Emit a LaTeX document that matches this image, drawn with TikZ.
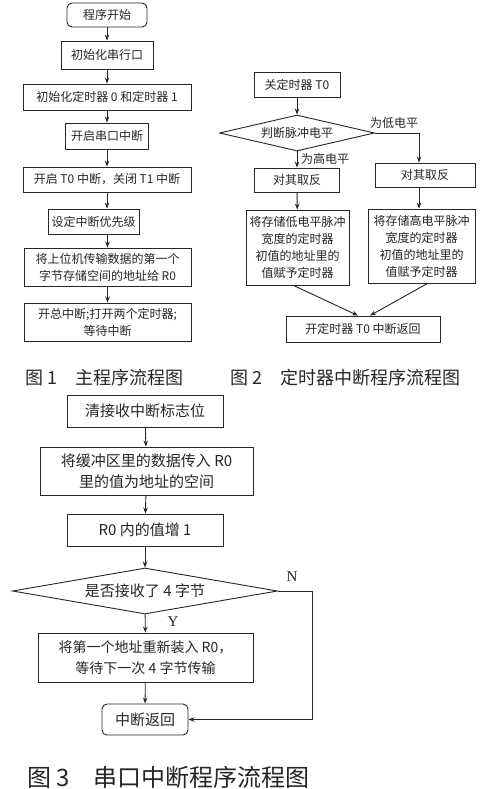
\documentclass[tikz,border=0pt]{standalone}
\usepackage{fontspec}
\setmainfont{Liberation Serif}
\newfontfamily\cjk{Noto Sans CJK SC}
\usetikzlibrary{arrows.meta,shapes.geometric}
\begin{document}
\begin{tikzpicture}[x=1pt,y=-1pt,
  box/.style={draw=black!85,line width=0.9pt,inner sep=1pt,align=center,text=black!85,
    font=\cjk\fontsize{12}{17}\selectfont},
  bigbox/.style={box,font=\cjk\fontsize{15}{21}\selectfont},
  rbox/.style={rounded corners=5pt},
  dia/.style={diamond,draw=black!85,line width=0.9pt,inner sep=0pt,text=black!85},
  arr/.style={-{Stealth[length=6pt,width=4.5pt]},draw=black!85,line width=0.9pt},
  lbl/.style={text=black!85,font=\cjk\fontsize{12}{14}\selectfont,inner sep=0pt},
  yn/.style={text=black!85,font=\fontsize{15}{17}\selectfont,inner sep=0pt},
  captext/.style={text=black!85,font=\cjk\fontsize{18}{20}\selectfont,inner sep=0pt,anchor=west},
  bigcaptext/.style={captext,font=\cjk\fontsize{24}{26}\selectfont}]
\useasboundingbox (0,0) rectangle (482,789);
\fill[white] (0,0) rectangle (482,789);

% ---------------- Figure 1 ----------------
\node[box,rbox,minimum width=80pt,minimum height=24pt] (s1) at (107,15) {程序开始};
\node[box,minimum width=92pt,minimum height=28pt] (a1) at (107,55) {初始化串行口};
\node[box,minimum width=168pt,minimum height=26pt] (a2) at (107,97) {初始化定时器 0 和定时器 1};
\node[box,minimum width=83pt,minimum height=26pt] (a3) at (107,136) {开启串口中断};
\node[box,minimum width=168pt,minimum height=25pt] (a4) at (107,179.5) {开启 T0 中断，关闭 T1 中断};
\node[box,minimum width=91pt,minimum height=25pt] (a5) at (93.5,221.5) {设定中断优先级};
\node[box,minimum width=167pt,minimum height=38pt] (a6) at (107.5,267) {将上位机传输数据的第一个\\字节存储空间的地址给 R0};
\node[box,minimum width=167pt,minimum height=38pt] (a7) at (107.5,322) {开总中断;打开两个定时器;\\等待中断};

\draw[arr] (s1) -- (a1);
\draw[arr] (a1) -- (a2);
\draw[arr] (a2) -- (a3);
\draw[arr] (a3) -- (a4);
\draw[arr] (a4.south) -- (a4.south |- a5.north);
\draw[arr] (a6.north |- a5.south) -- (a6.north);
\draw[arr] (a6) -- (a7);

% ---------------- Figure 2 ----------------
\node[box,minimum width=86pt,minimum height=25pt] (b1) at (297,84.5) {关定时器 T0};
\node[dia,aspect=4.3,minimum width=155pt,minimum height=36pt,font=\cjk\fontsize{12}{14}\selectfont] (d1) at (297,133) {判断脉冲电平};
\node[box,minimum width=85pt,minimum height=24pt] (b2) at (297,180) {对其取反};
\node[box,minimum width=100pt,minimum height=24pt] (b3) at (425,175) {对其取反};
\node[box,minimum width=103pt,minimum height=75pt] (b4) at (297.5,247.5) {将存储低电平脉冲\\宽度的定时器\\初值的地址里的\\值赋予定时器};
\node[box,minimum width=107pt,minimum height=74pt] (b5) at (421.5,246) {将存储高电平脉冲\\宽度的定时器\\初值的地址里的\\值赋予定时器};
\node[box,minimum width=154pt,minimum height=26pt] (b6) at (363,329) {开定时器 T0 中断返回};
\coordinate (rx) at (419,0);

\draw[arr] (b1) -- (d1);
\draw[arr] (d1) -- (b2);
\draw[arr] (b2) -- (b4);
\draw[arr] (d1.east) -| (rx |- b3.north);
\draw[arr] (rx |- b3.south) -- (rx |- b5.north);
\draw[arr] ([xshift=-4pt]b4.south) -- ([xshift=-5pt]b6.north);
\draw[arr] ([xshift=6pt]b5.south) -- ([xshift=7pt]b6.north);
\node[lbl] (l1) at (394,123) {为低电平};
\node[lbl] (l2) at (325,159) {为高电平};

% ---------------- Captions 1 & 2 ----------------
\node[captext] (cap1) at (25,378) {图 1\hspace{1em}主程序流程图};
\node[captext] (cap2) at (230,378) {图 2\hspace{1em}定时器中断程序流程图};

% ---------------- Figure 3 ----------------
\node[bigbox,minimum width=156pt,minimum height=32pt] (c1) at (145,411) {清接收中断标志位};
\node[bigbox,minimum width=213pt,minimum height=48pt] (c2) at (146.5,471) {将缓冲区里的数据传入 R0\\里的值为地址的空间};
\node[bigbox,minimum width=156pt,minimum height=32pt] (c3) at (145,530) {R0 内的值增 1};
\node[dia,aspect=5.76,minimum width=265pt,minimum height=46pt,font=\cjk\fontsize{15}{17}\selectfont] (d2) at (145,591) {是否接收了 4 字节};
\node[bigbox,minimum width=215pt,minimum height=49pt,font=\cjk\fontsize{14}{21}\selectfont] (c4) at (145.5,657.5) {将第一个地址重新装入 R0，\\等待下一次 4 字节传输};
\node[bigbox,rbox,minimum width=86pt,minimum height=31pt] (c5) at (145,719.5) {中断返回};
\coordinate (nx) at (312,0);

\draw[arr] (c1) -- (c2);
\draw[arr] (c2) -- (c3);
\draw[arr] (c3) -- (d2);
\draw[arr] (d2) -- (c4);
\draw[arr] (c4) -- (c5);
\draw[arr] (d2.east) -| (nx |- c5.east) -- (c5.east);
\node[yn] (nlab) at (292,577) {N};
\node[yn] (ylab) at (173,622) {Y};

% ---------------- Caption 3 ----------------
\node[bigcaptext] (cap3) at (27,777) {图 3\hspace{1em}串口中断程序流程图};
\end{tikzpicture}
\end{document}
